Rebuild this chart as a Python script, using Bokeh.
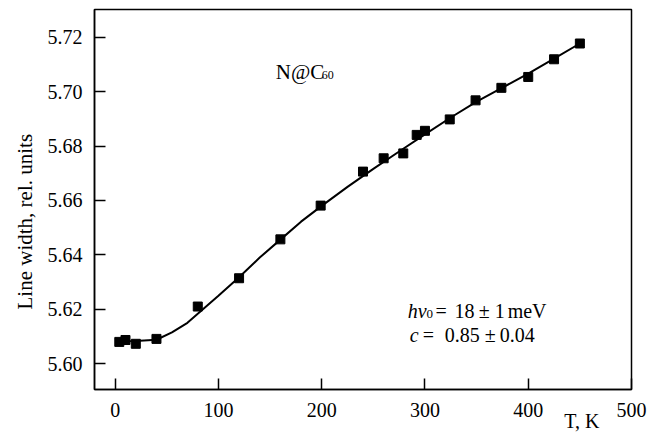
from bokeh.plotting import figure
from bokeh.models import Label, Range1d, FixedTicker, Title, LinearAxis
from bokeh.embed import file_html
from bokeh.resources import INLINE

# measured data
temp_K = [4, 10, 20, 40, 80, 120, 160, 199, 240, 260, 279, 292, 300, 324, 349, 374, 400, 425, 450]
line_width = [5.6080, 5.6087, 5.6073, 5.6091, 5.6210, 5.6314, 5.6457, 5.6581, 5.6706, 5.6755,
              5.6773, 5.6841, 5.6856, 5.6898, 5.6968, 5.7014, 5.7054, 5.7119, 5.7177]

# fitted curve
fit_T = [4, 20, 40, 55, 70, 85, 100, 120, 140, 160, 180, 200, 225, 250, 275, 300, 325, 350, 375, 400, 425, 450]
fit_v = [5.6082, 5.6083, 5.6088, 5.6115, 5.6150, 5.6200, 5.6250, 5.6318, 5.6390, 5.6456, 5.6522,
         5.6580, 5.6650, 5.6716, 5.6780, 5.6843, 5.6905, 5.6963, 5.7015, 5.7066, 5.7121, 5.7177]

x_ticks = [0, 100, 200, 300, 400, 500]
y_ticks = [5.60, 5.62, 5.64, 5.66, 5.68, 5.70, 5.72]
y_tick_labels = {5.60: "5.60", 5.62: "5.62", 5.64: "5.64", 5.66: "5.66", 5.68: "5.68", 5.70: "5.70", 5.72: "5.72"}

FONT = "Liberation Serif"

p = figure(width=650, height=438, output_backend="svg", toolbar_location=None,
           x_range=Range1d(-20, 500), y_range=Range1d(5.5905, 5.7302),
           min_border_left=94, min_border_right=19, min_border_top=9, min_border_bottom=49)

p.background_fill_color = "white"
p.border_fill_color = "white"
p.outline_line_color = "black"
p.outline_line_width = 1.5
p.xgrid.visible = False
p.ygrid.visible = False

p.line(fit_T, fit_v, line_color="black", line_width=2)
p.scatter(temp_K, line_width, marker="square", size=9, fill_color="black", line_color="black")

for ax in (p.xaxis[0], p.yaxis[0]):
    ax.axis_line_color = "black"
    ax.axis_line_width = 1.5
    ax.major_tick_in = 11
    ax.major_tick_out = 0
    ax.major_tick_line_color = "black"
    ax.major_tick_line_width = 1.5
    ax.minor_tick_line_color = None
    ax.major_label_text_font = FONT
    ax.major_label_text_font_size = "20px"
    ax.major_label_text_color = "black"

p.xaxis[0].ticker = FixedTicker(ticks=x_ticks)
p.yaxis[0].ticker = FixedTicker(ticks=y_ticks)
p.yaxis[0].major_label_overrides = y_tick_labels
p.xaxis[0].major_label_standoff = 13
p.yaxis[0].major_label_standoff = 12

# x axis title: a bare second axis carrying one label at the lower right
title_pos = 452
xt = LinearAxis(ticker=FixedTicker(ticks=[title_pos]),
                major_label_overrides={title_pos: "T, K"},
                axis_line_color=None, major_tick_line_color=None, minor_tick_line_color=None,
                major_tick_in=0, major_tick_out=0, major_label_standoff=-10,
                major_label_text_font=FONT, major_label_text_font_size="20px",
                major_label_text_color="black")
p.add_layout(xt, "below")

# y axis title as a side title, shifted down
p.add_layout(Title(text="Line width, rel. units", align="left", offset=80,
                   text_font=FONT, text_font_size="21px", text_font_style="normal",
                   text_color="black", standoff=15), "left")

def lab(x, y, text, size="20px", style="normal", **kw):
    opts = dict(text_baseline="alphabetic", text_align="left")
    opts.update(kw)
    p.add_layout(Label(x=x, y=y, text=text, text_font=FONT, text_font_size=size,
                       text_font_style=style, text_color="black", **opts))

# N@C60
lab(155.5, 5.7073, "N@C", size="21px")
lab(200.0, 5.7062, "60", size="12px")

# fit parameters
lab(283.3, 5.6192, "hν", style="italic")
lab(301.6, 5.6182, "0", size="13px")
lab(310.3, 5.6192, "=")
lab(328.7, 5.6192, "18")
lab(352.0, 5.6192, "±")
lab(367.5, 5.6192, "1")
lab(380.1, 5.6192, "meV")

lab(285.2, 5.6106, "c", style="italic")
lab(297.8, 5.6106, "=")
lab(319.1, 5.6106, "0.85")
lab(357.8, 5.6106, "±")
lab(372.3, 5.6106, "0.04")

open("out.html", "w").write(file_html(p, INLINE))
